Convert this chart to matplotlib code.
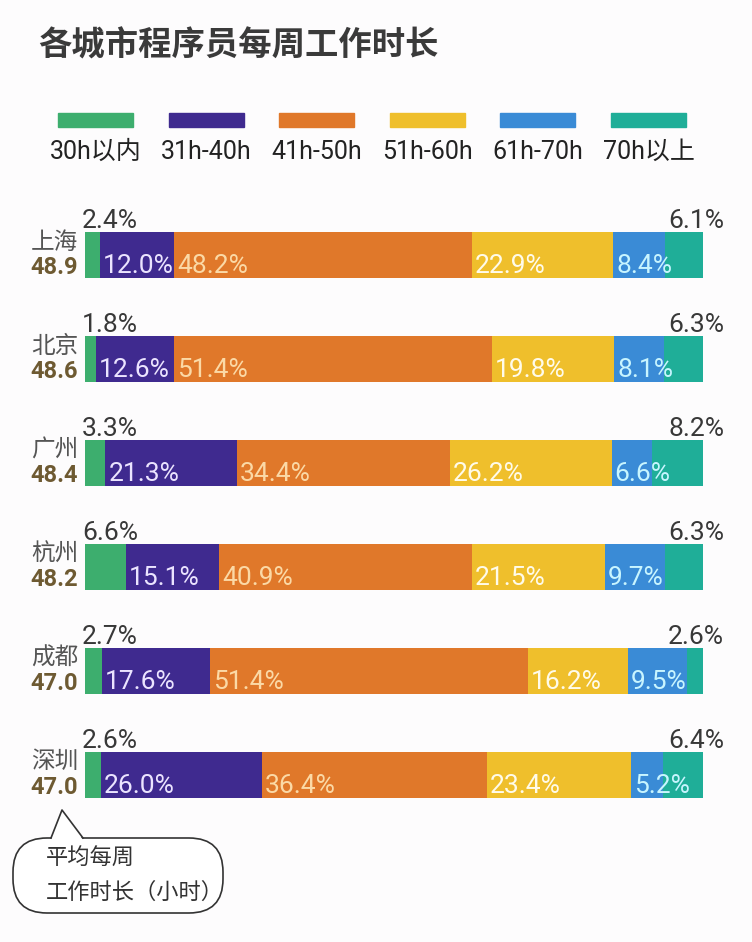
import matplotlib.pyplot as plt
import numpy as np
from matplotlib.patches import FancyBboxPatch, Polygon, Rectangle

cities = ['上海', '北京', '广州', '杭州', '成都', '深圳']
avg_hours = ['48.9', '48.6', '48.4', '48.2', '47.0', '47.0']
brackets = ['30h以内', '31h-40h', '41h-50h', '51h-60h', '61h-70h', '70h以上']

# share of programmers per weekly-hours bracket (%)
under_30 = [2.4, 1.8, 3.3, 6.6, 2.7, 2.6]
h31_40 = [12.0, 12.6, 21.3, 15.1, 17.6, 26.0]
h41_50 = [48.2, 51.4, 34.4, 40.9, 51.4, 36.4]
h51_60 = [22.9, 19.8, 26.2, 21.5, 16.2, 23.4]
h61_70 = [8.4, 8.1, 6.6, 9.7, 9.5, 5.2]
over_70 = [6.1, 6.3, 8.2, 6.3, 2.6, 6.4]

colors = ['#3dae6e', '#3f2a8f', '#e0782a', '#efbf2c', '#3a8bd6', '#1fae98']
inner_text = [None, '#ebe4ff', '#fbd9a6', '#fffbea', '#c8f5ff', None]

NUM = 'Roboto'
CJK = 'Noto Sans CJK SC'
MIX = [NUM, CJK]

W, H = 752, 942
fig = plt.figure(figsize=(W / 100, H / 100), dpi=100)
fig.patch.set_facecolor('#fdfcfd')

# overlay axes in pixel coordinates for title, legend and bubble
deco = fig.add_axes([0, 0, 1, 1])
deco.set_xlim(0, W)
deco.set_ylim(H, 0)
deco.axis('off')

deco.text(38, 46, '各城市程序员每周工作时长', family=CJK, fontsize=24,
          fontweight='bold', color='#3a3a3a', va='center', ha='left')

for k, (lab, c) in enumerate(zip(brackets, colors)):
    x0 = 58 + 110.6 * k
    deco.add_patch(Rectangle((x0, 113), 75, 14, color=c))
    deco.text(x0 + 37.5, 152, lab, family=MIX, fontsize=18,
              color='#222222', ha='center', va='center')

# bubble note
body = FancyBboxPatch((13, 838), 210, 75, boxstyle='round,pad=0,rounding_size=34',
                      facecolor='white', edgecolor='#333333', lw=1.2, zorder=2)
deco.add_patch(body)
deco.add_patch(Polygon([(51, 840), (62, 810), (83, 840)], closed=True,
                       facecolor='white', edgecolor='none', zorder=3))
deco.plot([51, 62, 83], [838, 810, 838], color='#333333', lw=1.2, zorder=4)
deco.text(46, 858, '平均每周', family=CJK, fontsize=16, color='#333333',
          va='center', ha='left', zorder=5)
deco.text(46, 892, '工作时长（小时）', family=CJK, fontsize=16, color='#333333',
          va='center', ha='left', zorder=5)

# bar axes
ax = fig.add_axes([85 / W, 1 - 827 / H, 618 / W, 624 / H])
ax.set_facecolor('none')
ax.set_xlim(0, 100)
ax.set_ylim(5.5, -0.5)
ax.axis('off')

series = [under_30, h31_40, h41_50, h51_60, h61_70, over_70]
y = np.arange(len(cities))
bh = 0.45
left = np.zeros(len(cities))
for k, vals in enumerate(series):
    vals = np.array(vals)
    ax.barh(y, vals, left=left, height=bh, color=colors[k], linewidth=0)
    for i in range(len(cities)):
        txt = f'{vals[i]:.1f}%'
        if k == 0:
            ax.annotate(txt, xy=(0, y[i] - bh / 2), xytext=(-3, 4),
                        textcoords='offset pixels', family=NUM, fontsize=19,
                        color='#383838', ha='left', va='baseline')
        elif k == len(series) - 1:
            ax.annotate(txt, xy=(100, y[i] - bh / 2), xytext=(-35, 4),
                        textcoords='offset pixels', family=NUM, fontsize=19,
                        color='#383838', ha='left', va='baseline')
        else:
            ax.annotate(txt, xy=(left[i], y[i] + bh / 2), xytext=(3, 5),
                        textcoords='offset pixels', family=NUM, fontsize=19,
                        color=inner_text[k], ha='left', va='baseline')
    left += vals

for i, (city, hrs) in enumerate(zip(cities, avg_hours)):
    ax.annotate(city, xy=(0, y[i]), xytext=(-7, 13), textcoords='offset pixels',
                family=CJK, fontsize=17, color='#555555', ha='right', va='center')
    ax.annotate(hrs, xy=(0, y[i]), xytext=(-7, -12), textcoords='offset pixels',
                family=NUM, fontsize=17, fontweight='bold', color='#6e5a32',
                ha='right', va='center')

plt.savefig('out.png', dpi=100, facecolor=fig.get_facecolor())
